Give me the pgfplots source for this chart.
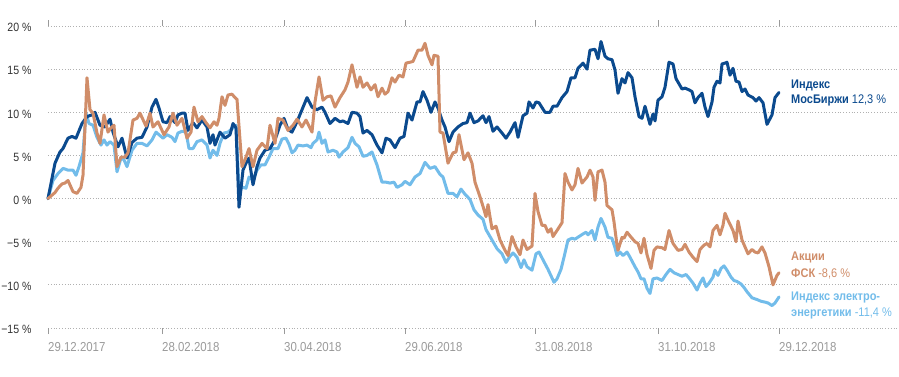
\documentclass[border=0pt]{standalone}
\usepackage{fontspec}
\setmainfont{Liberation Sans}[FakeStretch=0.88]
\usepackage{pgfplots}
\pgfplotsset{compat=1.18}
\definecolor{dblue}{HTML}{0B4A8E}
\definecolor{tanc}{HTML}{D08D69}
\definecolor{lblue}{HTML}{72BCEA}
\definecolor{gridc}{HTML}{B0B0B0}
\definecolor{ylab}{HTML}{333333}
\definecolor{xlab}{HTML}{9A9A9A}
\begin{document}
\begin{tikzpicture}[x=1pt,y=1pt]
\path[use as bounding box] (-48,-48) rectangle (851,328);
\begin{axis}[scale only axis, width=851pt, height=302pt, anchor=south west, at={(0,0)},
  xmin=48, xmax=899, ymin=-15, ymax=20, clip=false,
  axis line style={draw=none},
  ytick={-15,-10,-5,0,5,10,15,20},
  yticklabels={−15 \%,−10 \%,−5 \%,0 \%,5 \%,10 \%,15 \%,20 \%},
  xtick={48,162,284,405,535,658,779},
  xticklabels={29.12.2017,28.02.2018,30.04.2018,29.06.2018,31.08.2018,31.10.2018,29.12.2018},
  ymajorgrids, major grid style={gridc, dash pattern=on 0.8pt off 2pt, line width=0.8pt},
  tick align=outside, major tick length=6pt,
  xtick style={xlab, line width=0.8pt}, ytick style={draw=none},
  xticklabel style={anchor=base west, inner sep=0pt, font=\fontsize{13}{13}\selectfont, text=xlab, yshift=-17.7pt},
  yticklabel style={anchor=base east, inner sep=0pt, font=\fontsize{12}{12}\selectfont, text=ylab, xshift=-10.3pt, yshift=-5.8pt},
  every axis plot/.append style={line width=3pt, line join=round, line cap=round, no marks},
]
\addplot[lblue] coordinates {
(48,0) (53,2.1) (58,2.9) (63,3.5) (68,3.3) (73,3.3) (76,2.7) (79,3.7) (83,5.3) (86,9.9) (89,8.7) (93,8.5) (97,7.1) (101,6.2) (104,6.8) (107,6.2) (110,6.6) (114,6.2) (117,3.1) (121,4.7) (124,4.5) (127,3.7) (132,5.6) (137,6.4) (142,6.4) (147,6.1) (152,6.8) (156,7.7) (160,7.3) (163,7.0) (167,7.4) (172,7.1) (175,6.6) (178,7.6) (182,7.8) (186,7.7) (189,5.8) (193,5.8) (197,6.6) (202,6.8) (207,6.2) (210,4.7) (213,5.6) (217,5.0) (220,6.4) (224,7.6) (228,7.7) (233,8.2) (236,8.5) (239,1.0) (243,1.3) (246,1.2) (249,2.5) (253,2.1) (257,3.3) (261,3.9) (265,3.9) (269,4.8) (273,5.8) (278,5.8) (282,6.9) (286,7.0) (289,6.3) (292,5.3) (295,5.6) (298,6.2) (303,6.1) (307,6.2) (311,5.9) (313,6.4) (317,6.8) (319,7.7) (322,6.4) (325,6.8) (328,5.4) (333,5.6) (337,5.4) (339,4.8) (343,5.4) (348,5.9) (352,7.1) (355,6.4) (359,6.0) (363,4.9) (367,5.0) (372,5.4) (377,3.9) (382,1.9) (386,1.9) (390,1.8) (394,1.9) (397,1.3) (402,1.6) (405,2.0) (410,1.6) (415,2.5) (420,2.9) (425,4.2) (430,3.5) (435,3.7) (440,2.8) (443,2.5) (448,0.6) (453,0.6) (457,0.2) (461,1.1) (465,0.5) (470,-0.1) (474,-1.3) (478,-1.9) (483,-2.4) (486,-3.6) (489,-4.2) (493,-5.0) (497,-5.8) (502,-6.4) (506,-7.4) (510,-6.7) (513,-6.3) (517,-6.8) (521,-8.0) (524,-7.1) (527,-7.9) (532,-8.3) (536,-6.4) (539,-6.2) (543,-7.1) (548,-8.2) (552,-9.2) (554,-9.7) (557,-9.3) (561,-8.2) (564,-6.8) (568,-4.8) (572,-4.6) (575,-4.7) (579,-4.4) (583,-4.1) (586,-3.9) (588,-4.2) (592,-3.7) (595,-4.8) (598,-3.3) (601,-2.3) (605,-3.3) (608,-4.5) (612,-4.6) (615,-5.7) (617,-6.6) (620,-6.2) (623,-6.6) (627,-6.2) (630,-6.8) (635,-7.9) (638,-8.5) (641,-9.3) (644,-9.3) (647,-10.4) (650,-11.0) (653,-9.3) (657,-9.2) (662,-9.5) (666,-8.8) (670,-8.2) (674,-8.6) (678,-8.8) (682,-9.0) (686,-8.8) (689,-9.2) (693,-9.8) (697,-10.6) (700,-9.8) (703,-9.2) (706,-10.2) (709,-9.8) (713,-9.1) (715,-8.3) (718,-8.9) (721,-8.1) (724,-7.8) (727,-8.3) (731,-9.1) (734,-9.5) (737,-9.6) (741,-9.9) (744,-10.3) (747,-10.8) (752,-11.5) (757,-11.7) (761,-11.9) (765,-12.0) (768,-12.1) (772,-12.4) (775,-12.1) (779,-11.4)
};
\addplot[dblue] coordinates {
(48,0) (55,4.1) (60,5.4) (63,5.8) (68,7.0) (72,7.2) (76,7.0) (82,8.7) (87,9.5) (92,9.7) (95,10.0) (100,8.5) (105,8.3) (110,9.2) (113,7.7) (118,6.0) (122,7.0) (127,4.7) (132,6.5) (137,7.0) (142,7.1) (147,8.3) (152,10.6) (156,11.5) (159,10.5) (163,8.9) (167,8.8) (170,9.5) (175,8.8) (178,9.7) (182,9.9) (185,9.9) (188,7.9) (193,8.8) (197,8.2) (202,9.1) (207,8.3) (210,6.4) (213,7.4) (215,6.2) (220,7.7) (225,7.0) (230,7.4) (233,8.7) (236,8.2) (239,-1.0) (243,3.3) (246,4.1) (249,4.7) (253,1.6) (257,3.7) (260,4.7) (265,5.6) (270,5.8) (275,6.8) (280,8.5) (284,9.3) (288,8.0) (292,7.7) (297,8.9) (302,10.3) (307,11.7) (312,10.6) (317,10.3) (322,10.6) (325,10.0) (330,8.7) (335,9.3) (340,8.9) (343,9.0) (348,8.7) (352,10.0) (357,9.9) (360,9.5) (363,7.6) (367,7.9) (372,7.4) (377,6.2) (382,5.3) (386,7.0) (390,6.8) (395,5.9) (400,7.0) (404,7.2) (408,9.9) (412,9.1) (417,11.2) (420,11.2) (423,12.4) (427,11.4) (431,10.0) (435,11.2) (438,10.5) (442,9.1) (445,8.3) (449,6.6) (453,7.7) (458,8.3) (463,8.7) (467,8.8) (470,9.9) (474,8.8) (478,9.0) (483,9.6) (486,8.8) (489,9.5) (493,7.8) (497,8.3) (502,7.6) (506,7.0) (510,7.7) (515,8.8) (518,7.1) (523,9.6) (527,9.9) (529,11.2) (533,10.5) (536,11.2) (539,11.1) (545,10.0) (550,10.0) (553,10.7) (557,10.7) (562,11.7) (567,12.4) (571,14.0) (575,14.0) (578,15.1) (583,15.7) (587,15.0) (590,17.2) (595,17.3) (598,16.2) (601,18.2) (605,16.5) (608,16.2) (612,16.1) (615,14.9) (618,12.2) (622,13.9) (625,13.4) (628,14.6) (632,14.0) (635,11.8) (639,9.5) (642,9.3) (645,10.7) (650,8.6) (653,9.8) (655,9.0) (658,11.4) (662,11.8) (665,12.9) (669,15.8) (673,15.6) (676,13.9) (678,13.5) (682,12.7) (685,12.8) (689,12.6) (692,12.4) (695,11.1) (698,11.7) (702,12.2) (705,10.6) (708,9.5) (712,11.2) (714,12.9) (717,13.6) (720,13.4) (722,15.6) (725,15.7) (727,15.8) (730,14.3) (733,15.1) (736,13.6) (739,13.5) (742,12.4) (745,12.7) (748,12.0) (753,11.7) (756,11.3) (759,11.7) (763,11.1) (767,8.6) (772,9.7) (775,11.7) (779,12.3)
};
\addplot[tanc] coordinates {
(48,0) (55,0.7) (58,1.2) (62,1.7) (65,1.8) (68,2.1) (73,0.8) (77,0.6) (81,1.3) (83,2.7) (85,8.3) (87,14.0) (90,10.3) (93,9.9) (97,7.6) (100,6.4) (104,9.7) (108,7.7) (111,8.2) (114,8.5) (117,3.7) (121,4.8) (125,4.8) (128,5.3) (133,9.1) (137,9.3) (140,9.9) (146,8.4) (150,9.9) (153,8.3) (158,8.9) (164,7.4) (169,8.3) (173,9.9) (177,8.5) (182,9.3) (187,7.0) (191,7.7) (194,10.6) (198,8.9) (202,9.5) (206,8.8) (210,8.2) (214,8.9) (217,8.5) (219,9.3) (222,11.8) (225,10.8) (228,12.0) (232,12.1) (235,11.7) (237,11.5) (242,3.7) (246,4.8) (249,5.8) (253,3.7) (257,5.6) (262,6.4) (267,5.8) (270,8.5) (275,6.4) (278,9.3) (283,9.1) (288,7.9) (293,8.5) (297,9.2) (302,8.3) (306,9.1) (312,7.7) (315,11.2) (319,14.1) (323,11.4) (327,11.8) (331,11.9) (335,10.6) (340,11.7) (345,12.6) (348,13.5) (352,15.5) (357,12.9) (360,14.1) (363,12.9) (367,13.4) (371,12.6) (375,13.2) (378,11.8) (382,12.8) (385,12.1) (388,12.4) (392,14.0) (395,13.5) (399,14.3) (403,14.1) (406,15.7) (410,15.8) (413,15.9) (418,17.2) (422,17.2) (425,18.0) (428,16.6) (432,15.5) (434,16.6) (438,16.5) (440,7.7) (443,7.6) (448,4.1) (453,5.3) (456,5.4) (459,7.4) (464,4.5) (468,5.3) (472,4.1) (475,1.9) (480,0.2) (483,-0.9) (486,-2.1) (488,-0.7) (492,-3.5) (496,-3.2) (500,-4.8) (505,-6.0) (508,-6.6) (512,-4.4) (516,-5.6) (520,-6.5) (523,-4.8) (527,-5.9) (532,-5.5) (535,0.6) (538,-1.5) (542,-3.1) (545,-3.1) (548,-3.9) (551,-3.5) (553,-4.4) (557,-3.7) (562,-2.8) (565,2.9) (568,1.9) (572,1.0) (575,1.6) (578,3.5) (582,1.8) (587,2.5) (590,3.3) (593,2.5) (595,-0.2) (598,3.1) (602,3.3) (605,1.9) (607,-0.8) (612,-1.3) (614,-2.7) (617,-5.4) (618,-6.0) (622,-4.5) (624,-4.6) (627,-3.9) (632,-4.6) (635,-5.0) (638,-5.2) (641,-6.3) (644,-4.6) (647,-6.5) (651,-8.1) (654,-6.0) (657,-5.6) (662,-5.7) (665,-5.9) (669,-3.7) (673,-5.2) (678,-6.0) (682,-5.9) (685,-5.3) (689,-6.2) (693,-6.8) (697,-7.3) (700,-5.9) (704,-5.4) (707,-5.2) (710,-5.6) (713,-3.7) (717,-3.1) (720,-4.2) (723,-3.1) (725,-1.7) (728,-2.5) (733,-3.7) (736,-5.0) (738,-2.6) (742,-4.8) (745,-5.6) (748,-6.4) (752,-5.9) (755,-6.2) (758,-6.3) (762,-5.6) (765,-6.3) (769,-7.9) (773,-10.0) (777,-8.9) (779,-8.6)
};
\begin{scope}[every node/.style={anchor=base west, inner sep=0pt, font=\fontsize{12.5}{12.5}\selectfont}]
\node[text=dblue] at (axis cs:791,12.78) {\textbf{Индекс}};
\node[text=dblue] at (axis cs:791,11.04) {\textbf{МосБиржи} 12,3 \%};
\node[text=tanc] at (axis cs:791,-7.13) {\textbf{Акции}};
\node[text=tanc] at (axis cs:791,-9.14) {\textbf{ФСК} -8,6 \%};
\node[text=lblue] at (axis cs:791,-11.77) {\textbf{Индекс электро-}};
\node[text=lblue] at (axis cs:791,-13.63) {\textbf{энергетики} -11,4 \%};
\end{scope}
\end{axis}
\end{tikzpicture}
\end{document}
